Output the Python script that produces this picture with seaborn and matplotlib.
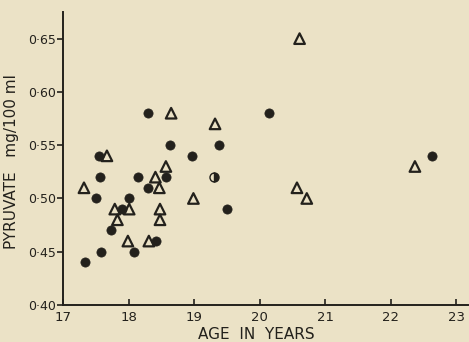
import numpy as np
import pandas as pd
import matplotlib
matplotlib.use("Agg")
import matplotlib.pyplot as plt
import seaborn as sns

# filled circles
circle_age = [17.33, 17.50, 17.56, 17.55, 17.58, 17.73, 17.90, 18.00, 18.08, 18.15,
              18.30, 18.30, 18.42, 18.57, 18.64, 18.97, 19.38, 19.50, 20.15, 22.63]
circle_pyr = [0.44, 0.50, 0.52, 0.54, 0.45, 0.47, 0.49, 0.50, 0.45, 0.52,
              0.58, 0.51, 0.46, 0.52, 0.55, 0.54, 0.55, 0.49, 0.58, 0.54]

# open triangles
tri_age = [17.32, 17.67, 17.79, 17.83, 18.01, 17.99, 18.31, 18.41, 18.47, 18.48,
           18.48, 18.57, 18.65, 18.99, 19.32, 20.57, 20.61, 20.72, 22.37]
tri_pyr = [0.51, 0.54, 0.49, 0.48, 0.49, 0.46, 0.46, 0.52, 0.51, 0.49,
           0.48, 0.53, 0.58, 0.50, 0.57, 0.51, 0.65, 0.50, 0.53]

# half-filled circle
half_age = [19.31]
half_pyr = [0.52]

x_ticks = [17, 18, 19, 20, 21, 22, 23]
y_ticks = [0.40, 0.45, 0.50, 0.55, 0.60, 0.65]
y_tick_labels = ["0·40", "0·45", "0·50", "0·55", "0·60", "0·65"]

paper = "#ebe2c6"
ink = "#23211c"

sns.set_style("ticks", {"axes.facecolor": paper, "figure.facecolor": paper,
                        "axes.edgecolor": ink, "xtick.color": ink, "ytick.color": ink,
                        "text.color": ink, "axes.labelcolor": ink})
plt.rcParams['font.family'] = ['DejaVu Sans']

fig = plt.figure(figsize=(4.69, 3.42), dpi=100)
ax = fig.add_axes([63 / 469, 1 - 305 / 342, 405 / 469, 293 / 342])

circles = pd.DataFrame({"age": circle_age, "pyruvate": circle_pyr})
triangles = pd.DataFrame({"age": tri_age, "pyruvate": tri_pyr})

sns.scatterplot(data=circles, x="age", y="pyruvate", ax=ax, marker="o", s=44,
                color=ink, edgecolor=ink, linewidth=0.5, zorder=3)
sns.scatterplot(data=triangles, x="age", y="pyruvate", ax=ax, marker="^", s=58,
                facecolor="none", edgecolor=ink, linewidth=1.6, zorder=3)
ax.plot(half_age, half_pyr, linestyle="none", marker="o", markersize=6.5,
        fillstyle="right", color=ink, markerfacecoloralt=paper,
        markeredgecolor=ink, markeredgewidth=1.0, zorder=3)

ax.set_xlim(17, 23.18)
ax.set_ylim(0.40, 0.675)
ax.set_xticks(x_ticks)
ax.set_xticklabels([str(t) for t in x_ticks], fontsize=9.5)
ax.set_yticks(y_ticks)
ax.set_yticklabels(y_tick_labels, fontsize=9)
ax.tick_params(axis="x", direction="in", length=4, width=1.2, pad=4)
ax.tick_params(axis="y", direction="out", length=4, width=1.2, pad=1)

sns.despine(ax=ax)
for side in ["left", "bottom"]:
    ax.spines[side].set_linewidth(1.4)

ax.set_xlabel("AGE  IN  YEARS", fontsize=11)
ax.xaxis.set_label_coords(0.477, -0.075)
ax.set_ylabel("PYRUVATE   mg/100 ml", fontsize=11)
ax.yaxis.set_label_coords(-0.108, 0.488)

fig.savefig("out.png", dpi=100, facecolor=paper)
